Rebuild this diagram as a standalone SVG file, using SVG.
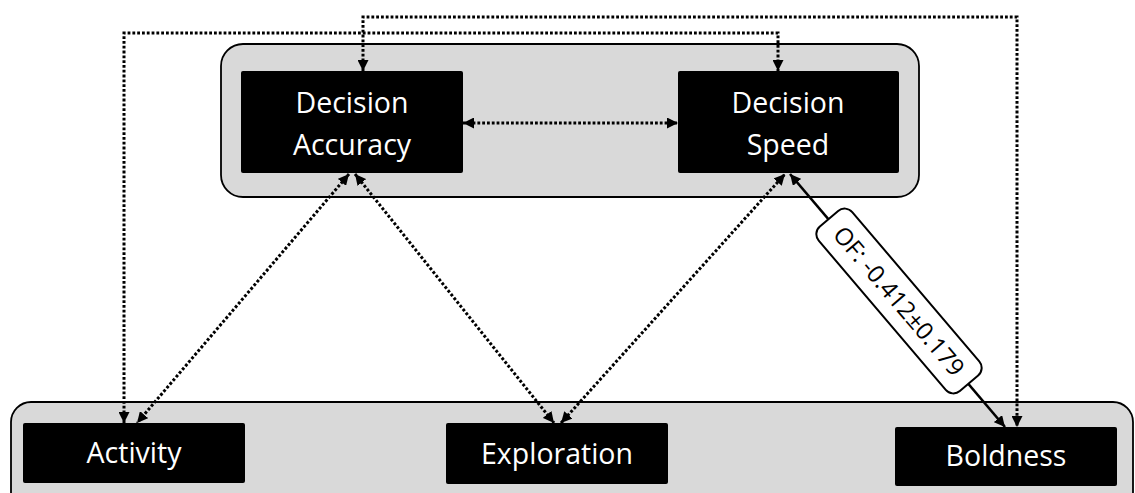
<svg xmlns="http://www.w3.org/2000/svg" width="1135" height="493" viewBox="0 0 1135 493">
<style>
.cont{fill:#d9d9d9;stroke:#000;stroke-width:1.8}
.box{fill:#000}
.lbl{font-family:"Open Sans","Liberation Sans",sans-serif;font-size:28.5px;fill:#fff;text-anchor:middle}
.dot{fill:none;stroke:#000;stroke-width:3;stroke-dasharray:2.8 2}
.solid{fill:none;stroke:#000;stroke-width:2.6}
.elab{font-family:"Open Sans","Liberation Sans",sans-serif;font-size:24px;fill:#000;text-anchor:middle}
</style>
<defs>
<marker id="ah" viewBox="0 0 10 10" refX="10" refY="5" markerWidth="11" markerHeight="11" markerUnits="userSpaceOnUse" orient="auto-start-reverse">
<path d="M0,0 L10,5 L0,10 z" fill="#000"/>
</marker>
</defs>
<rect width="1135" height="493" fill="#fff"/>
<g id="top-group">
<rect class="cont" x="221" y="44" width="698" height="153" rx="22"/>
</g>
<g id="bottom-group">
<rect class="cont" x="11" y="402" width="1122" height="110" rx="20"/>
</g>
<g id="decision-accuracy">
<rect class="box" x="241" y="71" width="222" height="102" rx="2"/>
<text class="lbl" x="352" y="113">Decision</text>
<text class="lbl" x="352" y="155">Accuracy</text>
</g>
<g id="decision-speed">
<rect class="box" x="678" y="71" width="221" height="102" rx="2"/>
<text class="lbl" x="788" y="113">Decision</text>
<text class="lbl" x="788" y="155">Speed</text>
</g>
<g id="activity">
<rect class="box" x="23" y="423" width="222" height="60" rx="2"/>
<text class="lbl" x="134" y="463">Activity</text>
</g>
<g id="exploration">
<rect class="box" x="446" y="423" width="222" height="61" rx="2"/>
<text class="lbl" x="557" y="464">Exploration</text>
</g>
<g id="boldness">
<rect class="box" x="895" y="427" width="222" height="59" rx="2"/>
<text class="lbl" x="1006" y="466">Boldness</text>
</g>
<g id="connectors">
<path class="dot" d="M124,423 L124,33 L778,33 L778,71" marker-start="url(#ah)" marker-end="url(#ah)"/>
<path class="dot" d="M363,71 L363,17 L1017,17 L1017,427" marker-start="url(#ah)" marker-end="url(#ah)"/>
<path class="dot" d="M463,123 L678,123" marker-start="url(#ah)" marker-end="url(#ah)"/>
<path class="dot" d="M349,174 L137,423" marker-start="url(#ah)" marker-end="url(#ah)"/>
<path class="dot" d="M355,174 L554,423" marker-start="url(#ah)" marker-end="url(#ah)"/>
<path class="dot" d="M561,423 L785,174" marker-start="url(#ah)" marker-end="url(#ah)"/>
<path class="solid" d="M790,174 L1005,427" marker-start="url(#ah)" marker-end="url(#ah)"/>
<g transform="translate(899,301) rotate(49.6)">
<rect x="-108" y="-22" width="216" height="44" rx="10" fill="#fff" stroke="#000" stroke-width="2"/>
<text class="elab" x="0" y="8.5">OF: -0.412±0.179</text>
</g>
</g>
</svg>
